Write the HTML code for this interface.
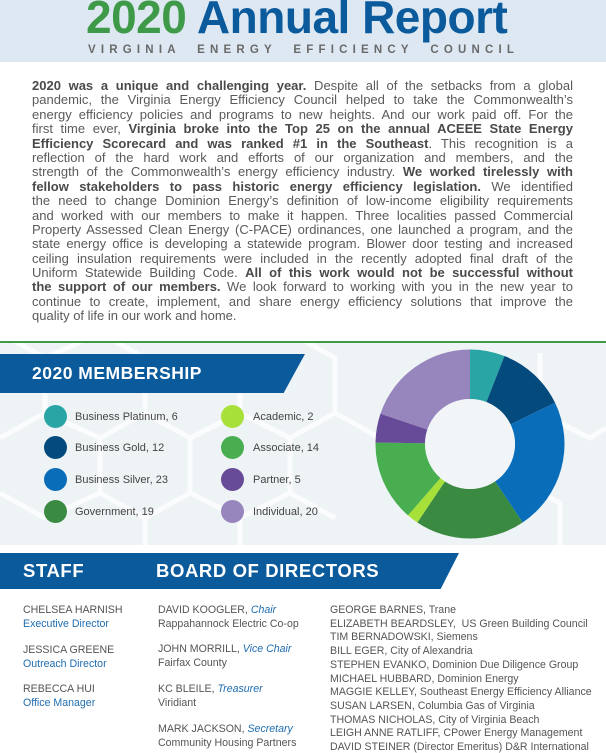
<!DOCTYPE html>
<html><head><meta charset="utf-8"><style>
*{margin:0;padding:0;box-sizing:border-box}
html,body{width:606px;height:753px;overflow:hidden}
body{background:#fff;font-family:"Liberation Sans",sans-serif;position:relative}
.hdr{position:absolute;left:0;top:0;width:606px;height:62px;background:#dde8f2}
.t{position:absolute;top:-10px;left:86px;font-size:46px;font-weight:bold;white-space:nowrap;letter-spacing:-0.5px}
.sub{position:absolute;top:44px;left:88px;font-size:11.5px;font-weight:bold;color:#6a6a6a;letter-spacing:5.2px;white-space:nowrap}
.p{position:absolute;left:32px;width:541px;top:79px;font-size:13px;line-height:14.4px;color:#5a5a5a}
.p div{text-align:justify;text-align-last:justify;white-space:nowrap;height:14.4px}
.p div.l{text-align-last:left}
.p b{color:#4a4a4a}
.mem{position:absolute;left:0;top:341px;width:606px;height:204px;background:#eef3f6;border-top:2.5px solid #3e9a48;overflow:hidden}
.lg{position:absolute;font-size:11px;color:#444}
.dot{position:absolute;width:23px;height:23px;border-radius:50%}
.ban{position:absolute;background:#0a5a9c;color:#fff;font-weight:bold}
.n{position:absolute;font-size:10.6px;color:#555;white-space:nowrap;line-height:14px}
.n i{color:#1f6db0}
.bl{color:#1f6db0}
</style></head><body>
<div class="hdr">
<div class="t"><span style="color:#3e9a48">2020</span> <span style="color:#0a5a9c">Annual Report</span></div>
<div class="sub">VIRGINIA &nbsp;ENERGY &nbsp;EFFICIENCY &nbsp;COUNCIL</div>
</div>
<div class="p">
<div><b>2020 was a unique and challenging year.</b> Despite all of the setbacks from a global</div>
<div>pandemic, the Virginia Energy Efficiency Council helped to take the Commonwealth’s</div>
<div>energy efficiency policies and programs to new heights. And our work paid off. For the</div>
<div>first time ever, <b>Virginia broke into the Top 25 on the annual ACEEE State Energy</b></div>
<div><b>Efficiency Scorecard and was ranked #1 in the Southeast</b>. This recognition is a</div>
<div>reflection of the hard work and efforts of our organization and members, and the</div>
<div>strength of the Commonwealth’s energy efficiency industry. <b>We worked tirelessly with</b></div>
<div><b>fellow stakeholders to pass historic energy efficiency legislation.</b> We identified</div>
<div>the need to change Dominion Energy’s definition of low-income eligibility requirements</div>
<div>and worked with our members to make it happen. Three localities passed Commercial</div>
<div>Property Assessed Clean Energy (C-PACE) ordinances, one launched a program, and the</div>
<div>state energy office is developing a statewide program. Blower door testing and increased</div>
<div>ceiling insulation requirements were included in the recently adopted final draft of the</div>
<div>Uniform Statewide Building Code. <b>All of this work would not be successful without</b></div>
<div><b>the support of our members.</b> We look forward to working with you in the new year to</div>
<div>continue to create, implement, and share energy efficiency solutions that improve the</div>
<div class="l">quality of life in our work and home.</div>
</div>
<div class="mem">
<svg width="606" height="204" style="position:absolute;left:0;top:0" fill="none" stroke="#fbfcfd" stroke-width="5">
<path d="M0,95 L45,70 L45,15 L0,-10 M45,70 L100,95 L145,70 L145,15 L100,-10 L45,15 M145,70 L190,95 L190,150 L145,175 L100,150 L100,95 M190,95 L240,70 L240,15 M240,70 L290,95 L290,150 L240,175 L190,150 M290,95 L335,70 L335,15 L290,-10 M335,70 L380,95 M100,150 L45,175 L0,150 M145,175 L145,220 M240,175 L240,220 M290,150 L335,175 M540,10 L540,70 L590,95 L606,85 M520,140 L560,160 L560,210"/>
</svg>
<div class="ban" style="left:0;top:11px;width:305px;height:39px;clip-path:polygon(0 0,100% 0,93% 100%,0 100%);font-size:17.5px;padding:9px 0 0 32px;letter-spacing:0.5px">2020 MEMBERSHIP</div>
<div class="dot" style="left:44px;top:62px;background:#2aa5a5"></div><div class="lg" style="left:75px;top:68px">Business Platinum, 6</div>
<div class="dot" style="left:44px;top:93px;background:#054a7d"></div><div class="lg" style="left:75px;top:99px">Business Gold, 12</div>
<div class="dot" style="left:44px;top:125px;background:#096dba"></div><div class="lg" style="left:75px;top:131px">Business Silver, 23</div>
<div class="dot" style="left:44px;top:157px;background:#3a8a42"></div><div class="lg" style="left:75px;top:163px">Government, 19</div>
<div class="dot" style="left:221px;top:62px;background:#a8e03a"></div><div class="lg" style="left:253px;top:68px">Academic, 2</div>
<div class="dot" style="left:221px;top:93px;background:#48ae50"></div><div class="lg" style="left:253px;top:99px">Associate, 14</div>
<div class="dot" style="left:221px;top:125px;background:#674a98"></div><div class="lg" style="left:253px;top:131px">Partner, 5</div>
<div class="dot" style="left:221px;top:157px;background:#9785bd"></div><div class="lg" style="left:253px;top:163px">Individual, 20</div>
<svg width="606" height="204" style="position:absolute;left:0;top:0" id="d"></svg>
</div>
<div class="ban" style="left:0;top:553px;width:459px;height:36px;clip-path:polygon(0 0,100% 0,96% 100%,0 100%);font-size:18.5px;letter-spacing:0.6px"><span style="position:absolute;left:23px;top:7px">STAFF</span><span style="position:absolute;left:156px;top:7px">BOARD OF DIRECTORS</span></div>
<div class="n" style="left:23px;top:603px">CHELSEA HARNISH<br><span class="bl">Executive Director</span></div>
<div class="n" style="left:23px;top:643px">JESSICA GREENE<br><span class="bl">Outreach Director</span></div>
<div class="n" style="left:23px;top:682px">REBECCA HUI<br><span class="bl">Office Manager</span></div>
<div class="n" style="left:158px;top:603px">DAVID KOOGLER, <i>Chair</i><br>Rappahannock Electric Co-op</div>
<div class="n" style="left:158px;top:642px">JOHN MORRILL, <i>Vice Chair</i><br>Fairfax County</div>
<div class="n" style="left:158px;top:682px">KC BLEILE, <i>Treasurer</i><br>Viridiant</div>
<div class="n" style="left:158px;top:722px">MARK JACKSON, <i>Secretary</i><br>Community Housing Partners</div>
<div class="n" style="left:330px;top:604px;line-height:13.7px">GEORGE BARNES, Trane<br>ELIZABETH BEARDSLEY, &nbsp;US Green Building Council<br>TIM BERNADOWSKI, Siemens<br>BILL EGER, City of Alexandria<br>STEPHEN EVANKO, Dominion Due Diligence Group<br>MICHAEL HUBBARD, Dominion Energy<br>MAGGIE KELLEY, Southeast Energy Efficiency Alliance<br>SUSAN LARSEN, Columbia Gas of Virginia<br>THOMAS NICHOLAS, City of Virginia Beach<br>LEIGH ANNE RATLIFF, CPower Energy Management<br>DAVID STEINER (Director Emeritus) D&amp;R International</div>
<script>
(function(){var v=[6,12,23,19,2,14,5,20],c=["#2aa5a5","#054a7d","#096dba","#3a8a42","#a8e03a","#48ae50","#674a98","#9785bd"];
var t=101,cx=470,cy=101,R=94.5,r=45,a=-Math.PI/2,s="";
function p(rr,an){return (cx+rr*Math.cos(an)).toFixed(2)+","+(cy+rr*Math.sin(an)).toFixed(2)}
for(var i=0;i<8;i++){var b=a+v[i]/t*2*Math.PI,l=(b-a)>Math.PI?1:0;
s+='<path fill="'+c[i]+'" d="M'+p(R,a)+' A'+R+','+R+' 0 '+l+' 1 '+p(R,b)+' L'+p(r,b)+' A'+r+','+r+' 0 '+l+' 0 '+p(r,a)+'Z"/>';a=b;}
s+='<circle cx="'+cx+'" cy="'+cy+'" r="'+r+'" fill="#f1f5f7"/>';
document.getElementById("d").innerHTML=s;})();
</script>
</body></html>
